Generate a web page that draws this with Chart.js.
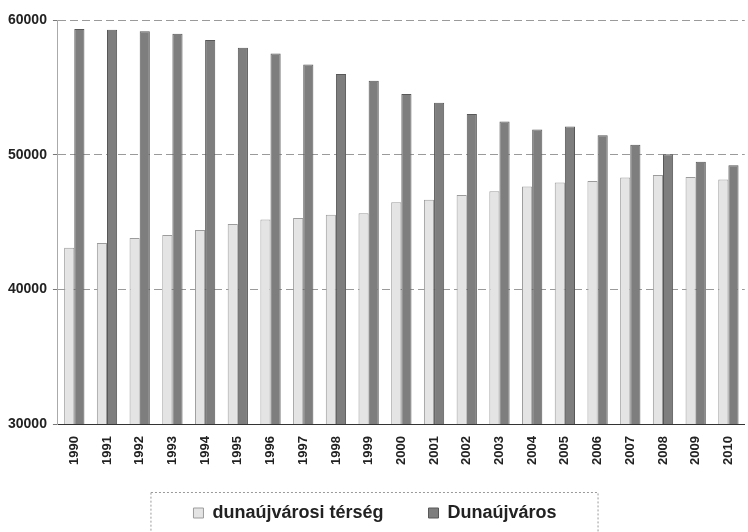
<!DOCTYPE html>
<html>
<head>
<meta charset="utf-8">
<script src="https://cdn.jsdelivr.net/npm/chart.js@4.4.0/dist/chart.umd.min.js"></script>
<style>
  html, body { margin: 0; padding: 0; background: #fff; overflow: hidden; }
  #wrap { width: 748px; height: 532px; }
</style>
</head>
<body>
<div id="wrap"><canvas id="chart" width="748" height="532"></canvas></div>
<script>
const years = ['1990','1991','1992','1993','1994','1995','1996','1997','1998','1999','2000',
  '2001','2002','2003','2004','2005','2006','2007','2008','2009','2010']
const terseg = [43100, 43450, 43820, 44040, 44410, 44860, 45180, 45300, 45550, 45650, 46460,
  46660, 47010, 47280, 47630, 47930, 48050, 48300, 48500, 48350, 48150]
const dunaujvaros = [59330, 59280, 59160, 58980, 58510, 57940, 57520, 56700, 55990, 55490, 54500,
  53850, 53030, 52470, 51870, 52100, 51450, 50730, 50040, 49470, 49220]
const yTicks = [30000, 40000, 50000, 60000]

// legend gets less room than it asks for, then is pulled up a bit
// so the plot can reach down like in the original
const legendShift = {
  id: 'legendShift',
  afterLayout(chart) {
    chart.legend.top -= 10
    chart.legend.bottom -= 10
  }
}

// dotted frame round the legend, like in the original
const legendFrame = {
  id: 'legendFrame',
  afterDraw(chart) {
    const boxes = chart.legend.legendHitBoxes
    if (!boxes || !boxes.length) return
    const last = boxes[boxes.length - 1]
    const ctx = chart.ctx
    const left = boxes[0].left - 43
    const right = last.left + last.width + 41
    const top = boxes[0].top - 12
    ctx.save()
    ctx.strokeStyle = '#9a9a9a'
    ctx.lineWidth = 1
    ctx.setLineDash([2, 2])
    ctx.strokeRect(left + 0.5, top + 0.5, right - left, chart.height + 10 - top)
    ctx.restore()
  }
}

const font = { family: 'Liberation Sans, Arial, sans-serif', weight: 'bold' }

new Chart(document.getElementById('chart'), {
  type: 'bar',
  data: {
    labels: years,
    datasets: [{
      label: 'dunaújvárosi térség',
      data: terseg,
      backgroundColor: '#e4e4e4',
      borderColor: '#9c9c9c',
      borderWidth: 1,
      barPercentage: 1,
      categoryPercentage: 0.62
    }, {
      label: 'Dunaújváros',
      data: dunaujvaros,
      backgroundColor: '#7e7e7e',
      borderColor: '#585858',
      borderWidth: 1,
      barPercentage: 1,
      categoryPercentage: 0.62
    }]
  },
  options: {
    responsive: false,
    animation: false,
    devicePixelRatio: 1,
    layout: { padding: { top: 20, right: 0, left: 2, bottom: 0 } },
    plugins: {
      tooltip: { enabled: false },
      legend: {
        position: 'bottom',
        maxHeight: 63,
        labels: {
          color: '#222',
          font: { ...font, size: 18 },
          boxWidth: 10,
          boxHeight: 10,
          padding: 45
        }
      }
    },
    scales: {
      x: {
        grid: { display: false },
        border: { color: '#333', width: 1 },
        ticks: {
          color: '#222',
          font: { ...font, size: 13 },
          maxRotation: 90,
          minRotation: 90,
          padding: 4
        }
      },
      y: {
        min: 30000,
        max: 60000,
        afterBuildTicks: axis => { axis.ticks = yTicks.map(v => ({ value: v })) },
        grid: { color: '#9a9a9a', tickColor: '#777', tickLength: 5, tickBorderDash: [] },
        border: { color: '#aaa', dash: [8, 4] },
        ticks: {
          color: '#222',
          font: { ...font, size: 14 },
          padding: 6,
          callback: v => String(v)
        }
      }
    }
  },
  plugins: [legendShift, legendFrame]
})
</script>
</body>
</html>
